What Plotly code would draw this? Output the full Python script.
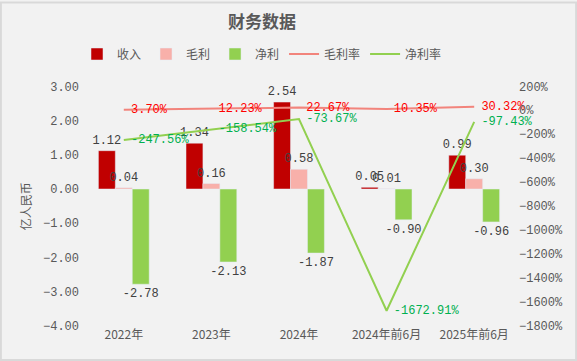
import plotly.graph_objects as go

categories = ["2022年", "2023年", "2024年", "2024年前6月", "2025年前6月"]
revenue = [1.12, 1.34, 2.54, 0.05, 0.99]
gross_profit = [0.04, 0.16, 0.58, 0.01, 0.30]
net_profit = [-2.78, -2.13, -1.87, -0.90, -0.96]
gross_margin = [3.70, 12.23, 22.67, 10.35, 30.32]
net_margin = [-247.56, -158.54, -73.67, -1672.91, -97.43]

FONT = "Liberation Mono, DejaVu Sans Mono, Noto Sans CJK SC"
CJK = "Noto Sans CJK SC"
W, H = 577, 361
L, R, T, B = 80, 59, 85, 35
PAD = "\u00a0"

fig = go.Figure()
bar_text = dict(size=12, color="#404040", family=FONT)
for name, vals, col in [("收入", revenue, "#C00000"), ("毛利", gross_profit, "#F8B0AA"),
                        ("净利", net_profit, "#92D050")]:
    fig.add_trace(go.Bar(name=name, x=categories, y=vals, marker_color=col,
                         text=[f"{v:.2f}" for v in vals], textposition="outside",
                         textfont=bar_text, cliponaxis=False, constraintext="none"))
fig.add_trace(go.Scatter(name="毛利率", x=categories, y=gross_margin, yaxis="y2",
                         mode="lines+text", line=dict(color="#F2847C", width=2),
                         text=[f"{PAD}{v:.2f}%" for v in gross_margin], textposition="middle right",
                         textfont=dict(size=12, color="#FF0000", family=FONT), cliponaxis=False))
fig.add_trace(go.Scatter(name="净利率", x=categories, y=net_margin, yaxis="y2",
                         mode="lines+text", line=dict(color="#92D050", width=2),
                         text=[f"{PAD}{v:.2f}%" for v in net_margin], textposition="middle right",
                         textfont=dict(size=12, color="#00B050", family=FONT), cliponaxis=False))

n = len(categories)
pw = W - L - R
fig.update_layout(
    width=W, height=H,
    margin=dict(l=L, r=R, t=T, b=B),
    paper_bgcolor="#F2F2F2", plot_bgcolor="#F2F2F2",
    barmode="group", bargap=0.42, bargroupgap=0,
    showlegend=True,
    title=dict(text="<b>财务数据</b>", x=262 / W, xref="container", xanchor="center",
               y=1 - 22 / H, yref="container", yanchor="middle",
               font=dict(family=CJK, size=17, color="#595959")),
    legend=dict(orientation="h", x=262 / W, xref="container", xanchor="center",
                y=1 - 54 / H, yref="container", yanchor="middle",
                font=dict(family=CJK, size=12, color="#595959"), itemwidth=30,
                traceorder="normal", tracegroupgap=0, bgcolor="rgba(0,0,0,0)"),
    xaxis=dict(showline=False, showgrid=False, ticks="", tickfont=dict(family=CJK, size=12, color="#595959"),
               range=[-0.5, n - 0.5]),
    xaxis2=dict(overlaying="x", anchor="free", position=4 / 7, range=[-0.5, n - 0.5],
                showline=True, linecolor="#D9D9D9", linewidth=1, ticks="outside", ticklen=5,
                tickcolor="#D9D9D9", tickvals=[i - 0.5 for i in range(n + 1)], showticklabels=False,
                showgrid=False, zeroline=False),
    yaxis=dict(range=[-4, 3], dtick=1, tickformat=".2f", showgrid=False, zeroline=False,
               tickfont=dict(family=FONT, size=12, color="#595959"),
               title=dict(text="亿人民币", standoff=8, font=dict(family=CJK, size=12, color="#595959"))),
    yaxis2=dict(overlaying="y", side="right", range=[-1800, 200], dtick=200, ticksuffix="%",
                showgrid=False, zeroline=False, tickfont=dict(family=FONT, size=12, color="#595959")),
    shapes=[dict(type="rect", xref="paper", yref="paper",
                 x0=-L / pw + 0.002, x1=1 + R / pw - 0.002,
                 y0=-B / (H - T - B) + 0.003, y1=1 + T / (H - T - B) - 0.003,
                 line=dict(color="#D9D9D9", width=2), fillcolor="rgba(0,0,0,0)", layer="below")],
)

fig.write_html("out.html", config={"displayModeBar": False},
               post_script="document.body.style.margin='0';document.body.style.overflow='hidden';")
